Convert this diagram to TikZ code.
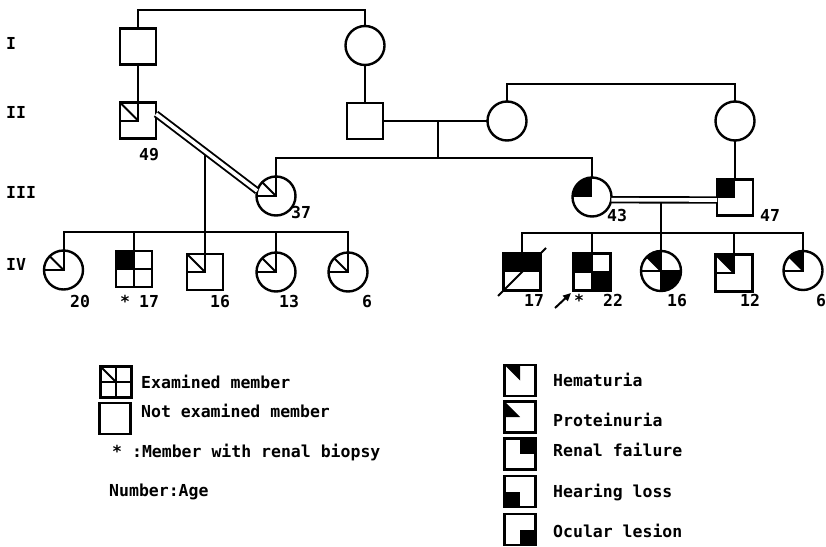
\documentclass[tikz,border=0pt]{standalone}
\usepackage{fontspec}
\setmonofont{DejaVu Sans Mono}
\usetikzlibrary{arrows.meta}
\newcommand\sqTL[1]{\draw[symline] (#1.north) -- (#1.center) -- (#1.west); \draw[symline] (#1.north west) -- (#1.center);}
\newcommand\ciTL[1]{\draw[symline] (#1.north) -- (#1.center) -- (#1.west); \draw[symline] (#1.135) -- (#1.center);}
\newcommand\sqCross[1]{\draw[symline] (#1.north) -- (#1.south); \draw[symline] (#1.west) -- (#1.east);}
\newcommand\cfill[2]{\begin{scope}\clip (#1.center) circle[radius=19.5pt]; \fill (#1.center) #2; \end{scope}}
\begin{document}
\begin{tikzpicture}[x=1pt,y=-1pt,
  every node/.style={font=\ttfamily\bfseries\fontsize{16.5}{18}\selectfont},
  male/.style={draw, rectangle, minimum size=36pt, inner sep=0pt, outer sep=0pt, line width=2.4pt},
  female/.style={draw, circle, minimum size=39pt, inner sep=0pt, outer sep=0pt, line width=2.4pt},
  legsq/.style={male, minimum size=31pt},
  con/.style={line width=2pt},
  cons/.style={double, line width=1.9pt, double distance=3.6pt},
  symline/.style={line width=2pt},
  lab/.style={anchor=base, inner sep=0pt},
  ltext/.style={anchor=base west, inner sep=0pt},
]
\useasboundingbox[fill=white] (0,0) rectangle (826,546);

% generation labels
\node[ltext] (g1) at (6,49) {I};
\node[ltext] (g2) at (6,118) {II};
\node[ltext] (g3) at (6,198) {III};
\node[ltext] (g4) at (6,270) {IV};

% individuals
\node[male]   (I1)  at (138,46.5) {};
\node[female] (I2)  at (365,45.5) {};
\node[male]   (II1) at (138,120.5) {};
\node[male]   (II2) at (365,121) {};
\node[female] (II3) at (507,121) {};
\node[female] (II4) at (735,121) {};
\node[female] (III37) at (276,196) {};
\node[female] (III43) at (592,197) {};
\node[male]   (III47) at (735,197.5) {};
\node[female] (L20) at (63.5,270) {};
\node[male]   (L17) at (134,269) {};
\node[male]   (L16) at (205,272) {};
\node[female] (L13) at (276,272) {};
\node[female] (L6)  at (348,272) {};
\node[male, minimum size=37pt] (R17) at (522,272) {};
\node[male, minimum size=37pt] (R22) at (592,272) {};
\node[female, minimum size=40pt] (R16) at (661,271) {};
\node[male, minimum size=37pt] (R12) at (734,273) {};
\node[female] (R6) at (803,270.5) {};

% connectors
\coordinate (j1) at (250,10);
\draw[con] (I1.north) -- (I1.north |- j1) -| (I2.north);
\draw[con] (I1) -- (II1);
\draw[con] (I2) -- (II2);
\draw[con] (II2) -- (II3);
\coordinate (j2) at (620,84);
\draw[con] (II3.north) -- (II3.north |- j2) -| (II4.north);
\draw[con] (II4) -- (III47);
\coordinate (m2) at (438,121);
\coordinate (s3) at (438,158);
\draw[con] (m2) -- (s3);
\draw[con] (III37.north) -- (III37.north |- s3) -| (III43.north);

\path (II1.20) -- (III37.165) coordinate[pos=0.484] (d1);
\coordinate (s4l) at (205,232);
\draw[con] (L16.north) -- (L16.north |- d1);
\draw[con] (L20.north) -- (L20.north |- s4l) -| (L6.north);
\draw[con] (L17.north) -- (L17.north |- s4l);
\draw[con] (L13.north) -- (L13.north |- s4l);
\draw[cons] (II1.20) -- (III37.165);

\path (III43.-8) -- (III47.188) coordinate[pos=0.5] (d2);
\coordinate (s4r) at (661,233);
\draw[con] (R16.north) -- (R16.north |- d2);
\draw[con] (R17.north) -- (R17.north |- s4r) -| (R6.north);
\draw[con] (R22.north) -- (R22.north |- s4r);
\draw[con] (R12.north) -- (R12.north |- s4r);
\draw[cons] (III43.-8) -- (III47.188);

% symbol markings
\sqTL{II1}
\ciTL{III37}
\cfill{III43}{rectangle ++(-30,-30)}
\fill (III47.center) rectangle (III47.north west);
\ciTL{L20}
\fill (L17.center) rectangle (L17.north west);
\sqCross{L17}
\sqTL{L16}
\ciTL{L13}
\ciTL{L6}
\fill (R17.west) rectangle (R17.north east);
\draw[symline] (R17.center) ++(-24,24) -- ++(48,-48);
\fill (R22.center) rectangle (R22.north west);
\fill (R22.center) rectangle (R22.south east);
\sqCross{R22}
\begin{scope}\clip (R16.center) circle[radius=20pt];
  \fill (R16.center) -- ++(0,-30) -- ++(-30,0) -- cycle;
  \fill (R16.center) rectangle ++(30,30);
\end{scope}
\draw[symline] (R16.north) -- (R16.south);
\draw[symline] (R16.west) -- (R16.east);
\draw[symline] (R16.135) -- (R16.center);
\fill (R12.north west) -- (R12.north) -- (R12.center) -- cycle;
\sqTL{R12}
\cfill{R6}{-- ++(0,-30) -- ++(-30,0) -- cycle}
\ciTL{R6}

% ages
\node[lab] (a49) at (149,160) {49};
\node[lab] (a37) at (301,218) {37};
\node[lab] (a43) at (617,221) {43};
\node[lab] (a47) at (770,221) {47};
\node[lab] (a20) at (80,307) {20};
\node[lab] (st1) at (125,307) {*};
\node[lab] (a17) at (149,307) {17};
\node[lab] (a16) at (220,307) {16};
\node[lab] (a13) at (289,307) {13};
\node[lab] (a6)  at (367,307) {6};
\node[lab] (b17) at (534,306) {17};
\coordinate (ar0) at (555,308);
\coordinate (ar1) at (571,293);
\draw[con, -{Triangle[length=8pt,width=7pt]}] (ar0) -- (ar1);
\node[lab] (st2) at (579,306) {*};
\node[lab] (b22) at (613,306) {22};
\node[lab] (b16) at (677,306) {16};
\node[lab] (b12) at (750,306) {12};
\node[lab] (b6)  at (821,306) {6};

% legend left
\node[legsq] (LEx) at (116,382) {};
\sqCross{LEx}
\draw[symline] (LEx.north west) -- (LEx.center);
\node[legsq] (LNot) at (115,418.5) {};
\node[ltext] (tEx) at (141,388) {Examined member};
\node[ltext] (tNot) at (141,417) {Not examined member};
\node[ltext] (tBio) at (112,457) {* :Member with renal biopsy};
\node[ltext] (tNum) at (109,496) {Number:Age};

% legend right
\node[legsq] (Hem) at (520,380.5) {};
\fill (Hem.north west) -- (Hem.north) -- (Hem.center) -- cycle;
\node[legsq] (Pro) at (520,417) {};
\fill (Pro.north west) -- (Pro.west) -- (Pro.center) -- cycle;
\node[legsq] (Ren) at (520,454) {};
\fill (Ren.center) rectangle (Ren.north east);
\node[legsq] (Hea) at (520,491.5) {};
\fill (Hea.center) rectangle (Hea.south west);
\node[legsq] (Ocu) at (520,529.5) {};
\fill (Ocu.center) rectangle (Ocu.south east);
\node[ltext] (tHem) at (553,386) {Hematuria};
\node[ltext] (tPro) at (553,426) {Proteinuria};
\node[ltext] (tRen) at (553,456) {Renal failure};
\node[ltext] (tHea) at (553,497) {Hearing loss};
\node[ltext] (tOcu) at (553,537) {Ocular lesion};
\end{tikzpicture}
\end{document}
